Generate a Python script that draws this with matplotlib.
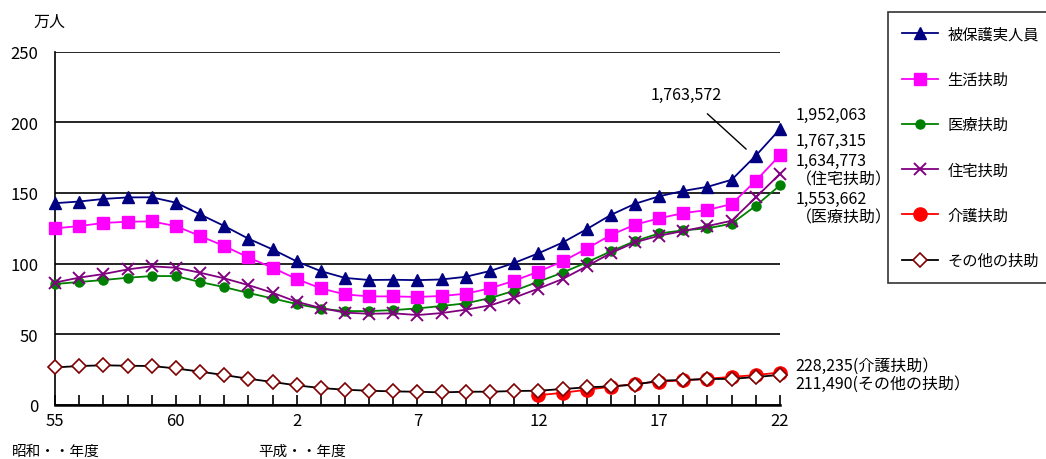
import matplotlib
matplotlib.use("Agg")
import matplotlib.pyplot as plt
import numpy as np

plt.rcParams['font.family'] = ['Noto Sans CJK JP', 'DejaVu Sans']

# 年度: 昭和55 ... 昭和63, 平成1 ... 平成22 (単位: 万人)
years = ['55', '56', '57', '58', '59', '60', '61', '62', '63',
         '1', '2', '3', '4', '5', '6', '7', '8', '9', '10', '11',
         '12', '13', '14', '15', '16', '17', '18', '19', '20', '21', '22']
shown_labels = ['55', '60', '2', '7', '12', '17', '22']

hihogo = [142.7, 143.9, 145.7, 146.8, 146.9, 143.1, 134.8, 126.6, 117.6, 110.0,
          101.5, 94.6, 89.8, 88.3, 88.5, 88.2, 88.7, 90.6, 94.7, 100.4,
          107.2, 114.8, 124.3, 134.4, 142.3, 147.6, 151.4, 154.3, 159.3, 176.4, 195.2]
seikatsu = [124.9, 126.5, 128.7, 129.6, 129.8, 126.5, 119.5, 112.4, 104.3, 97.0,
            89.0, 82.4, 78.1, 76.7, 76.7, 76.3, 77.0, 78.6, 82.4, 87.8,
            94.2, 101.5, 110.5, 120.2, 127.5, 132.0, 135.7, 137.9, 142.1, 158.6, 176.7]
iryo = [85.5, 86.9, 88.3, 89.9, 91.1, 91.1, 86.9, 83.3, 79.1, 75.3,
        71.3, 68.0, 66.3, 66.3, 67.0, 68.2, 69.9, 71.8, 75.5, 80.7,
        87.1, 93.5, 100.8, 108.6, 115.9, 121.3, 123.5, 124.9, 128.2, 140.9, 155.4]
jutaku = [86.5, 90.0, 92.5, 95.8, 98.0, 97.0, 93.5, 89.5, 84.7, 79.3,
          72.9, 68.5, 65.2, 64.4, 64.7, 63.5, 64.9, 67.3, 70.3, 75.8,
          82.2, 89.0, 98.0, 107.4, 115.0, 119.7, 123.0, 126.5, 130.3, 146.8, 163.5]
kaigo_years = ['12', '13', '14', '15', '16', '17', '18', '19', '20', '21', '22']
kaigo = [6.7, 8.4, 10.6, 12.7, 14.7, 16.4, 17.2, 18.4, 19.7, 21.0, 22.8]
sonota = [26.4, 27.4, 27.9, 27.6, 27.4, 25.7, 23.4, 21.0, 18.4, 16.1,
          13.7, 11.8, 10.6, 9.9, 9.4, 9.2, 8.7, 9.2, 9.2, 9.7,
          9.9, 11.1, 12.3, 13.0, 14.2, 17.0, 17.5, 18.2, 18.3, 19.6, 21.1]

x = np.arange(len(years))
xk = np.array([years.index(y) for y in kaigo_years])

fig = plt.figure(figsize=(10.46, 4.60), dpi=100)
ax = fig.add_axes([55 / 1046, 1 - 405.7 / 460, 725 / 1046, 353 / 460])

ax.plot(x, hihogo, color='#000080', lw=1.3, marker='^', ms=9, label='被保護実人員', clip_on=False, zorder=6)
ax.plot(x, seikatsu, color='#FF00FF', lw=1.3, marker='s', ms=8, label='生活扶助', clip_on=False, zorder=5)
ax.plot(x, iryo, color='#008000', lw=1.3, marker='o', ms=6.5, label='医療扶助', clip_on=False, zorder=4)
ax.plot(x, jutaku, color='#800080', lw=1.3, marker='x', ms=8, mew=1.4, label='住宅扶助', clip_on=False, zorder=4)
ax.plot(xk, kaigo, color='#FF0000', lw=1.3, marker='o', ms=9.5, label='介護扶助', clip_on=False, zorder=4)
ax.plot(x, sonota, color='black', lw=1.3, marker='D', ms=7, mfc='white', mec='#800000', mew=1.2,
        label='その他の扶助', clip_on=False, zorder=5)

ax.set_xlim(0, 30)
ax.set_ylim(0, 250)
ax.set_yticks(np.arange(0, 251, 50))
ax.yaxis.grid(True, color='black', lw=1.2)
ax.set_axisbelow(True)
ax.set_xticks([years.index(s) for s in shown_labels])
ax.set_xticklabels(shown_labels, fontsize=12)
ax.set_xticks(x, minor=True)
ax.tick_params(axis='x', which='both', direction='in', length=7, width=1.2, pad=5)
ax.tick_params(axis='y', length=0, pad=12, labelsize=12)
for s in ['top', 'right']:
    ax.spines[s].set_visible(False)
ax.spines['left'].set_linewidth(1.2)
ax.spines['bottom'].set_linewidth(1.8)

# annotations
ax.annotate('1,763,572', xy=(28.6, 181), xytext=(26.1, 220), ha='center', va='center', fontsize=11.5,
            arrowprops=dict(arrowstyle='-', color='black', lw=1, shrinkA=9, shrinkB=0))
right_notes = [('1,952,063', 205.9), ('1,767,315', 186.8), ('1,634,773', 173.3),
               ('（住宅扶助）', 159.8), ('1,553,662', 146.4), ('（医療扶助）', 132.9),
               ('228,235(介護扶助）', 28.1), ('211,490(その他の扶助）', 15.4)]
for txt, yv in right_notes:
    ax.text(30.65, yv, txt, ha='left', va='center', fontsize=11.5, clip_on=False)

fig.text(33 / 1046, 1 - 22 / 460, '万人', fontsize=11.5, va='center')
fig.text(12 / 1046, 1 - 452 / 460, '昭和・・年度', fontsize=10.5, va='center')
fig.text(258 / 1046, 1 - 452 / 460, '平成・・年度', fontsize=10.5, va='center')

leg = fig.legend(loc='upper left', bbox_to_anchor=(888 / 1046, 1 - 13 / 460, 170 / 1046, 0.0),
                 mode='expand', frameon=True, fancybox=False, fontsize=11, labelspacing=1.85,
                 handlelength=2.4, handletextpad=0.6, borderpad=0.9, borderaxespad=0)
leg.get_frame().set_edgecolor('black')
leg.get_frame().set_linewidth(1.2)

fig.savefig('out.png', dpi=100)
